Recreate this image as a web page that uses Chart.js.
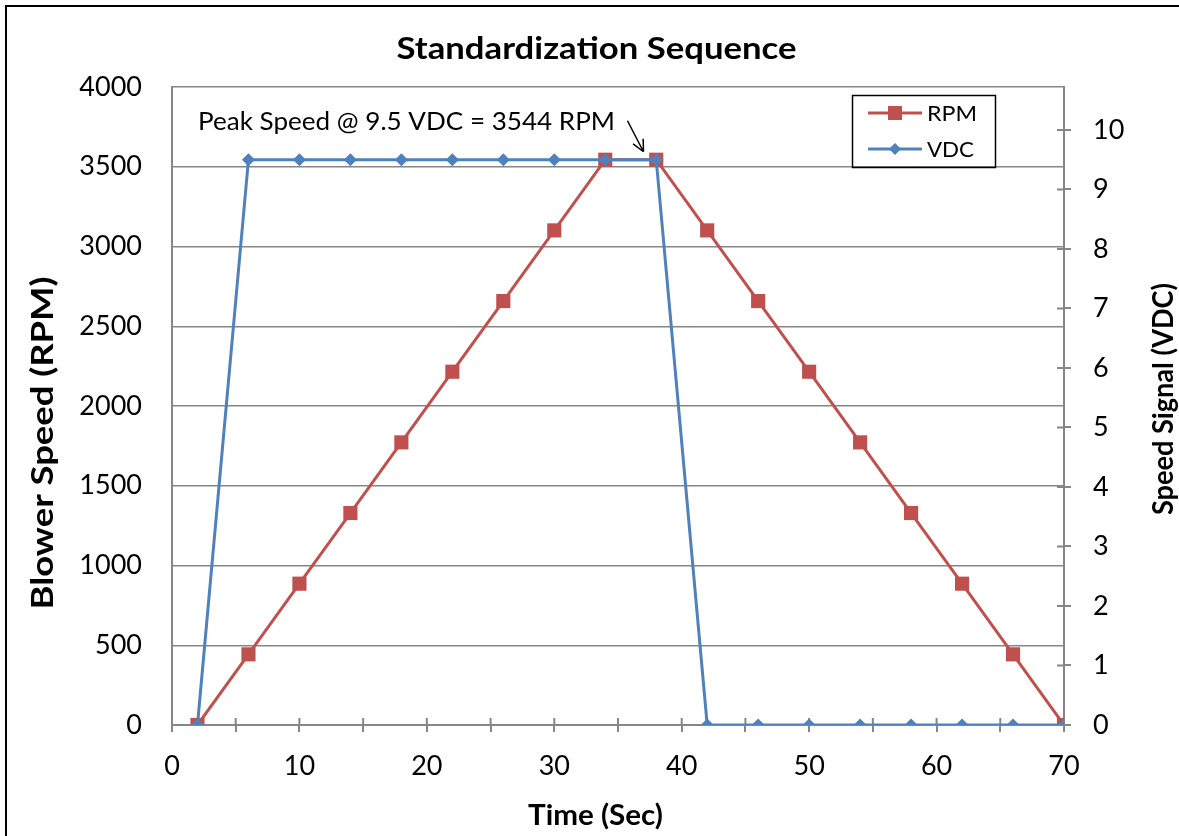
<!DOCTYPE html>
<html>
<head>
<meta charset="utf-8">
<script src="https://cdn.jsdelivr.net/npm/chart.js@4.4.0/dist/chart.umd.min.js"></script>
<style>
  html, body { margin: 0; padding: 0; background: #fff; }
  #wrap { width: 1179px; height: 836px; }
</style>
</head>
<body>
<div id="wrap"><canvas id="myChart" width="1179" height="836"></canvas></div>
<script>
'use strict'

// data
const timeSec = [2, 6, 10, 14, 18, 22, 26, 30, 34, 38, 42, 46, 50, 54, 58, 62, 66, 70];
const rpmValues = [0, 443, 886, 1329, 1772, 2215, 2658, 3101, 3544, 3544, 3101, 2658, 2215, 1772, 1329, 886, 443, 0];
const vdcValues = [0, 9.5, 9.5, 9.5, 9.5, 9.5, 9.5, 9.5, 9.5, 9.5, 0, 0, 0, 0, 0, 0, 0, 0];
const xTicks = [0, 10, 20, 30, 40, 50, 60, 70];
const rpmTicks = [0, 500, 1000, 1500, 2000, 2500, 3000, 3500, 4000];
const vdcTicks = [0, 1, 2, 3, 4, 5, 6, 7, 8, 9, 10];
const peakRpm = 3544;
const peakVdc = 9.5;

const RED = '#C0504D';
const BLUE = '#4F81BD';
const GRID = '#868686';
const FONT = 'Lato';

function points(values) {
  return timeSec.map((t, i) => ({ x: t, y: values[i] }));
}

// draw text squeezed/stretched to a given width (Calibri is wider than Lato)
function fitText(ctx, text, x, y, width, rot) {
  const w = ctx.measureText(text).width;
  ctx.save();
  ctx.translate(x, y);
  if (rot) ctx.rotate(rot);
  ctx.scale(width / w, 1);
  ctx.fillText(text, 0, 0);
  ctx.restore();
}

// tick marks that cross the axis line (Excel style)
const crossTicks = {
  id: 'crossTicks',
  beforeDatasetsDraw(chart) {
    const ctx = chart.ctx;
    const xs = chart.scales.x;
    const y2 = chart.scales.y2;
    ctx.save();
    ctx.strokeStyle = GRID;
    ctx.lineWidth = 2;
    ctx.beginPath();
    for (const t of xs.ticks) {
      const px = xs.getPixelForValue(t.value);
      ctx.moveTo(px, xs.top - 7);
      ctx.lineTo(px, xs.top);
    }
    for (const t of y2.ticks) {
      const py = y2.getPixelForValue(t.value);
      ctx.moveTo(y2.left - 7, py);
      ctx.lineTo(y2.left, py);
    }
    ctx.stroke();
    ctx.restore();
  }
};

const decorations = {
  id: 'decorations',
  afterDraw(chart) {
    const ctx = chart.ctx;
    const xs = chart.scales.x;
    const ys = chart.scales.y;
    ctx.save();

    // outer frame
    ctx.strokeStyle = '#000';
    ctx.lineWidth = 2;
    ctx.beginPath();
    ctx.moveTo(6, 836);
    ctx.lineTo(6, 6);
    ctx.lineTo(1179, 6);
    ctx.stroke();

    ctx.fillStyle = '#000';
    ctx.textAlign = 'center';
    ctx.textBaseline = 'alphabetic';

    // chart title
    ctx.font = 'bold 30px ' + FONT;
    fitText(ctx, 'Standardization Sequence', 596.5, 59, 400);

    // x title
    ctx.font = 'bold 28px ' + FONT;
    fitText(ctx, 'Time (Sec)', 595.5, 825, 135);

    // left y title
    ctx.font = 'bold 31px ' + FONT;
    fitText(ctx, 'Blower Speed (RPM)', 53, 443, 333, -Math.PI / 2);

    // right y title
    ctx.font = 'bold 29px ' + FONT;
    fitText(ctx, 'Speed Signal (VDC)', 1173, 399, 232, -Math.PI / 2);

    // annotation
    const peakY = ys.getPixelForValue(peakRpm);
    ctx.font = '25px ' + FONT;
    ctx.textAlign = 'right';
    fitText(ctx, 'Peak Speed @ 9.5 VDC = 3544 RPM', 615, peakY - 30, 417);
    const tipX = xs.getPixelForValue(37);
    const tipY = peakY - 8;
    const tailX = tipX - 16;
    const tailY = tipY - 31;
    ctx.strokeStyle = '#000';
    ctx.lineWidth = 1.5;
    ctx.beginPath();
    ctx.moveTo(tailX, tailY);
    ctx.lineTo(tipX, tipY);
    const ang = Math.atan2(tipY - tailY, tipX - tailX);
    ctx.moveTo(tipX, tipY);
    ctx.lineTo(tipX - 13 * Math.cos(ang - 0.45), tipY - 13 * Math.sin(ang - 0.45));
    ctx.moveTo(tipX, tipY);
    ctx.lineTo(tipX - 13 * Math.cos(ang + 0.45), tipY - 13 * Math.sin(ang + 0.45));
    ctx.stroke();

    // legend
    ctx.lineWidth = 1.5;
    ctx.strokeRect(852.5, 95.5, 143, 72);
    const rows = [
      { label: 'RPM', color: RED, y: 113, marker: 'rect' },
      { label: 'VDC', color: BLUE, y: 149, marker: 'rectRot' }
    ];
    ctx.font = '22px ' + FONT;
    ctx.textAlign = 'left';
    ctx.textBaseline = 'middle';
    for (const r of rows) {
      ctx.strokeStyle = r.color;
      ctx.fillStyle = r.color;
      ctx.lineWidth = 3;
      ctx.beginPath();
      ctx.moveTo(868, r.y);
      ctx.lineTo(922, r.y);
      ctx.stroke();
      if (r.marker === 'rect') {
        ctx.fillRect(888, r.y - 7, 14, 14);
      } else {
        ctx.beginPath();
        ctx.moveTo(895, r.y - 6);
        ctx.lineTo(901, r.y);
        ctx.lineTo(895, r.y + 6);
        ctx.lineTo(889, r.y);
        ctx.closePath();
        ctx.fill();
      }
      ctx.fillStyle = '#000';
      fitText(ctx, r.label, 927, r.y + 1, r.label === 'RPM' ? 50 : 47);
    }
    ctx.restore();
  }
};

const ctx = document.getElementById('myChart').getContext('2d');

const myChart = new Chart(ctx, {
  type: 'line',
  data: {
    datasets: [{
      label: 'RPM',
      data: points(rpmValues),
      yAxisID: 'y',
      borderColor: RED,
      backgroundColor: RED,
      borderWidth: 3,
      pointStyle: 'rect',
      pointRadius: 10,
      pointBorderWidth: 0,
      tension: 0,
      order: 2
    },
    {
      label: 'VDC',
      data: points(vdcValues),
      yAxisID: 'y2',
      borderColor: BLUE,
      backgroundColor: BLUE,
      borderWidth: 3,
      pointStyle: 'rectRot',
      pointRadius: 6.5,
      pointBorderWidth: 0,
      tension: 0,
      order: 1
    }]
  },
  options: {
    responsive: false,
    animation: false,
    devicePixelRatio: 1,
    layout: { padding: { top: 87, left: 0, right: 0, bottom: 0 } },
    plugins: {
      legend: { display: false },
      tooltip: { enabled: false }
    },
    scales: {
      x: {
        type: 'linear',
        position: 'bottom',
        min: 0,
        max: 70,
        afterFit(scale) { scale.height = 111; },
        afterBuildTicks(scale) {
          const all = [];
          for (let v = 0; v <= 70; v += 5) all.push({ value: v });
          scale.ticks = all;
        },
        ticks: {
          autoSkip: false,
          maxRotation: 0,
          color: '#000',
          font: { family: FONT, size: 27 },
          padding: 18,
          callback: (v) => xTicks.includes(v) ? String(v) : ''
        },
        grid: { drawOnChartArea: false, drawTicks: true, tickLength: 7, color: GRID, lineWidth: 2 },
        border: { color: GRID, width: 2 }
      },
      y: {
        position: 'left',
        min: rpmTicks[0],
        max: rpmTicks[rpmTicks.length - 1],
        afterFit(scale) { scale.width = 172; },
        afterBuildTicks(scale) { scale.ticks = rpmTicks.map(v => ({ value: v })); },
        ticks: {
          color: '#000',
          font: { family: FONT, size: 27 },
          padding: 30,
          callback: (v) => String(v)
        },
        grid: { drawTicks: false, color: GRID, lineWidth: 1.5 },
        border: { color: GRID, width: 2 }
      },
      y2: {
        position: 'right',
        min: 0,
        max: rpmTicks[rpmTicks.length - 1] * peakVdc / peakRpm,
        afterFit(scale) { scale.width = 115; },
        afterBuildTicks(scale) { scale.ticks = vdcTicks.map(v => ({ value: v })); },
        ticks: {
          color: '#000',
          font: { family: FONT, size: 27 },
          padding: 22,
          callback: (v) => String(v)
        },
        grid: { drawOnChartArea: false, drawTicks: true, tickLength: 7, color: GRID, lineWidth: 2 },
        border: { color: GRID, width: 2 }
      }
    }
  },
  plugins: [crossTicks, decorations]
});
</script>
</body>
</html>
